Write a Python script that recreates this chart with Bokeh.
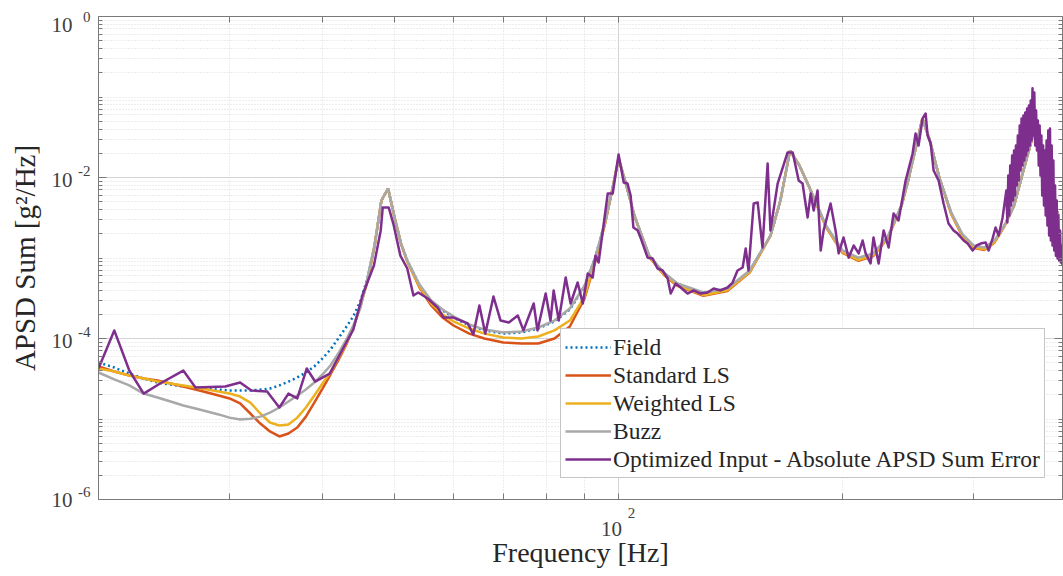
from bokeh.plotting import figure
from bokeh.models import Range1d, FixedTicker, LogAxis, CustomJSTickFormatter
from bokeh.embed import file_html
from bokeh.resources import INLINE

# Frequency grid shared by the smooth APSD-sum curves [Hz]
freq = [20, 21, 22, 23, 24, 25, 26, 27, 28, 29, 30, 31, 32, 33, 34, 35, 36, 37, 38, 39,
        40, 41, 42, 43, 44, 45, 46, 47, 48, 49, 50, 51, 52, 54, 56, 58, 60, 63, 66, 70,
        74, 78, 82, 86, 90, 93, 96, 98, 100, 102, 105, 110, 115, 120, 130, 140, 150, 160,
        165, 170, 175, 180, 190, 200, 210, 220, 230, 240, 245, 250, 256, 262, 270, 280,
        290, 300, 310, 320, 330, 340, 350, 362, 372, 380, 390]

# APSD sum [g^2/Hz]
field = [5.04e-5, 4.36e-5, 3.67e-5, 3.18e-5, 2.84e-5, 2.68e-5, 2.53e-5, 2.46e-5, 2.39e-5, 2.32e-5,
         2.26e-5, 2.26e-5, 2.26e-5, 2.32e-5, 2.39e-5, 2.61e-5, 2.92e-5, 3.28e-5, 3.78e-5, 4.49e-5,
         5.65e-5, 7.30e-5, 1.00e-4, 1.37e-4, 1.88e-4, 2.96e-4, 5.73e-4, 1.43e-3, 5.18e-3, 7.30e-3,
         3.19e-3, 1.51e-3, 9.31e-4, 4.55e-4, 2.88e-4, 2.23e-4, 1.82e-4, 1.45e-4, 1.26e-4, 1.15e-4,
         1.19e-4, 1.33e-4, 1.63e-4, 2.29e-4, 4.43e-4, 1.01e-3, 2.92e-3, 6.90e-3, 1.72e-2, 9.18e-3,
         3.37e-3, 1.04e-3, 6.42e-4, 4.69e-4, 3.52e-4, 4.06e-4, 6.80e-4, 1.90e-3, 5.18e-3, 2.16e-2,
         1.41e-2, 7.96e-3, 2.46e-3, 1.20e-3, 9.58e-4, 1.10e-3, 1.80e-3, 4.49e-3, 9.18e-3, 2.05e-2,
         5.41e-2, 2.88e-2, 9.72e-3, 3.57e-3, 1.90e-3, 1.39e-3, 1.31e-3, 1.60e-3, 2.53e-3, 4.49e-3,
         1.22e-2, 3.84e-2, 1.41e-2, 6.52e-3, 3.37e-3]

standard_ls = [4.50e-5, 3.89e-5, 3.47e-5, 3.18e-5, 3.01e-5, 2.76e-5, 2.53e-5, 2.32e-5, 2.13e-5, 1.96e-5,
               1.80e-5, 1.56e-5, 1.17e-5, 8.79e-6, 7.00e-6, 6.07e-6, 6.61e-6, 7.83e-6, 1.07e-5, 1.60e-5,
               2.39e-5, 3.57e-5, 5.33e-5, 8.19e-5, 1.37e-4, 2.57e-4, 5.25e-4, 1.43e-3, 5.18e-3, 7.30e-3,
               3.19e-3, 1.51e-3, 9.06e-4, 4.30e-4, 2.57e-4, 1.82e-4, 1.45e-4, 1.15e-4, 1.00e-4, 8.92e-5,
               8.67e-5, 8.67e-5, 1.00e-4, 1.41e-4, 3.14e-4, 8.79e-4, 2.76e-3, 6.90e-3, 1.72e-2, 9.18e-3,
               3.37e-3, 1.02e-3, 6.20e-4, 4.50e-4, 3.40e-4, 3.90e-4, 6.60e-4, 1.88e-3, 5.18e-3, 2.16e-2,
               1.41e-2, 7.96e-3, 2.42e-3, 1.16e-3, 9.20e-4, 1.06e-3, 1.76e-3, 4.45e-3, 9.18e-3, 2.05e-2,
               5.41e-2, 2.88e-2, 9.72e-3, 3.50e-3, 1.84e-3, 1.34e-3, 1.26e-3, 1.55e-3, 2.48e-3, 4.45e-3,
               1.22e-2, 3.84e-2, 1.41e-2, 6.52e-3, 3.37e-3]

weighted_ls = [4.24e-5, 3.89e-5, 3.47e-5, 3.18e-5, 2.92e-5, 2.76e-5, 2.61e-5, 2.46e-5, 2.32e-5, 2.20e-5,
               2.07e-5, 1.90e-5, 1.60e-5, 1.17e-5, 9.05e-6, 8.30e-6, 8.55e-6, 1.04e-5, 1.39e-5, 1.96e-5,
               2.76e-5, 3.78e-5, 5.65e-5, 8.42e-5, 1.37e-4, 2.57e-4, 5.25e-4, 1.43e-3, 5.18e-3, 7.30e-3,
               3.19e-3, 1.51e-3, 9.06e-4, 4.43e-4, 2.72e-4, 1.99e-4, 1.63e-4, 1.33e-4, 1.15e-4, 1.03e-4,
               1.00e-4, 1.06e-4, 1.26e-4, 1.67e-4, 3.32e-4, 9.31e-4, 2.84e-3, 6.90e-3, 1.72e-2, 9.18e-3,
               3.37e-3, 1.03e-3, 6.30e-4, 4.60e-4, 3.45e-4, 3.98e-4, 6.70e-4, 1.89e-3, 5.18e-3, 2.16e-2,
               1.41e-2, 7.96e-3, 2.44e-3, 1.18e-3, 9.40e-4, 1.08e-3, 1.78e-3, 4.47e-3, 9.18e-3, 2.05e-2,
               5.41e-2, 2.88e-2, 9.72e-3, 3.53e-3, 1.87e-3, 1.36e-3, 1.28e-3, 1.57e-3, 2.50e-3, 4.47e-3,
               1.22e-2, 3.84e-2, 1.41e-2, 6.52e-3, 3.37e-3]

buzz = [3.78e-5, 3.10e-5, 2.61e-5, 2.07e-5, 1.85e-5, 1.65e-5, 1.47e-5, 1.35e-5, 1.24e-5, 1.14e-5,
        1.04e-5, 9.86e-6, 1.01e-5, 1.07e-5, 1.20e-5, 1.39e-5, 1.65e-5, 1.96e-5, 2.32e-5, 2.84e-5,
        3.57e-5, 4.62e-5, 6.51e-5, 9.45e-5, 1.45e-4, 2.43e-4, 5.73e-4, 1.43e-3, 5.18e-3, 7.30e-3,
        3.19e-3, 1.51e-3, 9.31e-4, 4.69e-4, 2.96e-4, 2.29e-4, 1.88e-4, 1.49e-4, 1.29e-4, 1.19e-4,
        1.22e-4, 1.37e-4, 1.67e-4, 2.36e-4, 4.55e-4, 1.01e-3, 2.92e-3, 6.90e-3, 1.72e-2, 9.18e-3,
        3.37e-3, 1.07e-3, 6.61e-4, 4.82e-4, 3.73e-4, 4.18e-4, 7.00e-4, 1.90e-3, 5.18e-3, 2.16e-2,
        1.41e-2, 7.96e-3, 2.53e-3, 1.24e-3, 1.01e-3, 1.14e-3, 1.85e-3, 4.49e-3, 9.18e-3, 2.05e-2,
        5.41e-2, 2.88e-2, 9.72e-3, 3.67e-3, 1.96e-3, 1.43e-3, 1.35e-3, 1.65e-3, 2.53e-3, 4.49e-3,
        1.22e-2, 3.84e-2, 1.41e-2, 6.52e-3, 3.37e-3]

# Optimized input (absolute APSD-sum error), finer frequency resolution [Hz]
opt_freq = [20.0, 21.0, 22.0, 23.0, 24.2, 26.0, 27.0, 29.6, 31.0, 32.1, 33.7, 35.0, 36.0, 37.0,
            38.1, 39.1, 40.9, 42.7, 44.0, 45.3, 46.9, 47.9, 48.2, 49.1,
            49.8, 50.9, 52.0, 53.0, 53.8, 55.4, 57.1, 58.2, 60.0, 62.7, 63.8, 65.0, 66.2, 67.9,
            69.4, 71.2, 73.2, 74.5, 76.9, 77.8, 79.8, 81.0, 81.8, 83.1, 84.9, 86.2, 88.1, 89.5,
            90.9, 92.3, 93.1, 94.0, 96.7, 98.2, 100.0,
            101.6, 102.8, 103.8, 104.7, 106.1, 107.0, 109.4, 111.1, 112.8, 114.6, 116.4, 117.5,
            119.3, 121.2, 123.8, 126.1, 128.9, 131.7, 134.2, 137.1, 140.1, 142.3, 144.5, 146.8,
            148.2, 149.5, 151.9, 153.8, 156.1, 158.6, 160.0, 163.6, 168.7, 171.4, 174.6, 176.7,
            179.5, 181.2,
            182.9, 185.1, 186.9, 188.6, 192.7, 195.7, 197.6, 200.6, 203.8, 207.0, 210.2, 212.8,
            214.8, 218.1, 220.1, 223.6, 227.1, 230.6, 234.2, 237.8, 243.1, 248.4, 250.7, 253.0,
            256.2, 258.6, 260.2, 262.7, 265.1, 269.2, 273.4, 277.6, 282.0, 285.5, 290.9, 294.5,
            299.1, 302.8, 306.6, 311.4, 314.3, 318.2, 321.1, 324.2, 328.2,
            332, 333, 334, 335, 336, 337, 338, 339, 340, 341, 342, 343, 344, 345, 346, 347, 348,
            349, 350, 351, 352, 353, 354, 355, 356, 357, 358, 359, 360, 361, 362, 363, 364, 365,
            366, 367, 368, 369, 370, 371, 372, 373, 374, 375, 376, 377, 378, 379, 380, 381, 382,
            383, 384, 385, 386, 387, 388, 389, 390, 391, 392, 393, 394, 395]

opt_apsd = [4.24e-5, 1.26e-4, 4.00e-5, 2.07e-5, 2.76e-5, 4.00e-5, 2.46e-5, 2.53e-5, 2.84e-5, 2.26e-5,
            2.20e-5, 1.39e-5, 2.07e-5, 1.80e-5, 4.24e-5, 2.92e-5, 3.67e-5, 7.73e-5, 1.29e-4, 3.52e-4,
            8.07e-4, 2.20e-3, 4.24e-3, 4.24e-3,
            2.68e-3, 1.07e-3, 7.41e-4, 3.42e-4, 3.73e-4, 3.14e-4, 2.43e-4, 1.82e-4, 1.82e-4, 1.54e-4,
            1.12e-4, 2.57e-4, 1.15e-4, 3.32e-4, 1.67e-4, 1.58e-4, 1.93e-4, 1.26e-4, 2.72e-4, 1.26e-4,
            3.62e-4, 1.67e-4, 3.95e-4, 1.67e-4, 5.73e-4, 2.72e-4, 4.96e-4, 2.72e-4, 6.42e-4, 5.73e-4,
            1.07e-3, 8.79e-4, 6.33e-3, 6.33e-3, 1.93e-2,
            8.67e-3, 8.42e-3, 5.97e-3, 2.39e-3, 2.20e-3, 1.80e-3, 1.01e-3, 9.86e-4, 7.41e-4, 7.00e-4,
            5.56e-4, 3.62e-4, 4.82e-4, 4.30e-4, 3.62e-4, 3.95e-4, 3.62e-4, 3.73e-4, 4.18e-4, 3.95e-4,
            4.30e-4, 4.96e-4, 7.00e-4, 7.62e-4, 1.31e-3, 7.00e-4, 4.75e-3, 4.89e-3, 1.35e-3, 1.49e-2,
            2.20e-3, 8.42e-3, 2.05e-2, 2.05e-2, 9.18e-3, 8.42e-3, 3.19e-3, 6.33e-3,
            3.89e-3, 6.90e-3, 1.24e-3, 2.20e-3, 4.75e-3, 2.20e-3, 1.14e-3, 1.80e-3, 1.01e-3, 1.43e-3,
            1.14e-3, 1.65e-3, 1.14e-3, 8.55e-4, 1.80e-3, 8.55e-4, 2.20e-3, 1.35e-3, 3.57e-3, 2.92e-3,
            9.18e-3, 1.99e-2, 3.52e-2, 2.50e-2, 5.41e-2, 6.24e-2, 3.33e-2, 2.64e-2, 1.22e-2, 9.18e-3,
            4.75e-3, 2.68e-3, 2.20e-3, 2.01e-3, 1.65e-3, 1.51e-3, 1.24e-3, 1.43e-3, 1.51e-3, 1.56e-3,
            1.24e-3, 1.75e-3, 2.39e-3, 1.90e-3, 3.19e-3,
            6.90e-3, 2.76e-3, 1.06e-2, 3.37e-3, 1.41e-2, 4.49e-3, 1.88e-2, 5.18e-3, 2.16e-2, 5.97e-3,
            2.50e-2, 7.96e-3, 3.33e-2, 9.18e-3, 4.43e-2, 1.22e-2, 5.41e-2, 1.41e-2, 5.89e-2, 1.63e-2,
            6.42e-2, 1.88e-2, 7.20e-2, 2.16e-2, 7.84e-2, 2.50e-2, 9.05e-2, 2.88e-2, 1.28e-1, 3.33e-2,
            1.14e-1, 2.50e-2, 6.80e-2, 2.16e-2, 5.11e-2, 1.41e-2, 4.43e-2, 1.06e-2, 3.33e-2, 5.97e-3,
            2.50e-2, 4.49e-3, 2.16e-2, 3.37e-3, 2.88e-2, 2.53e-3, 3.84e-2, 1.90e-3, 4.06e-2, 1.65e-3,
            2.50e-2, 1.43e-3, 1.63e-2, 1.24e-3, 7.96e-3, 1.07e-3, 5.18e-3, 9.86e-4, 3.37e-3, 9.31e-4,
            2.20e-3, 8.79e-4, 1.43e-3, 8.07e-4]

# Axis ticks: only 10^2 labelled on x, even decades labelled on y
x_major = [100]
x_minor = [30, 40, 50, 60, 70, 80, 90, 200, 300]
y_major = [1e-6, 1e-4, 1e-2, 1.0]
y_minor = [k * 10.0 ** n for n in range(-6, 0) for k in range(1, 10)
           if not (k == 1 and n % 2 == 0)]

X_MIN, X_MAX = 20, 395
Y_MIN, Y_MAX = 1e-6, 1.0
FRAME_W, FRAME_H = 964, 483          # plot-area size in pixels
PX_PER_DECADE_X = FRAME_W / 1.29557  # log10(395 / 20)
PX_PER_DECADE_Y = FRAME_H / 6.0

SERIF = "Liberation Serif"
AXIS_GRAY = "#7a7a7a"
TEXT = "#262626"
TICK_TEXT = "#404040"


def nudge(v, px, per_decade):
    """Move a log-axis position by a number of screen pixels."""
    return v * 10 ** (px / per_decade)


p = figure(width=1063, height=576, x_axis_type="log", y_axis_type="log",
           x_range=Range1d(X_MIN, X_MAX), y_range=Range1d(Y_MIN, Y_MAX),
           output_backend="svg", toolbar_location=None,
           min_border_left=98, min_border_right=1, min_border_top=16, min_border_bottom=77)
p.background_fill_color = "white"
p.border_fill_color = "white"
p.outline_line_color = AXIS_GRAY

x_ticker = FixedTicker(ticks=x_major, minor_ticks=x_minor)
y_ticker = FixedTicker(ticks=y_major, minor_ticks=y_minor)
blank = CustomJSTickFormatter(code="return '';")
exponent_fmt = CustomJSTickFormatter(code="return String(Math.round(Math.log10(tick)));")
base_fmt = CustomJSTickFormatter(code="return '10';")


def tick_axis(ax, ticker, tick_len, minor_len):
    """Frame-side axis carrying only the inward tick marks."""
    ax.ticker = ticker
    ax.formatter = blank
    ax.major_label_standoff = 0
    ax.major_label_text_font_size = "1px"
    ax.axis_line_color = AXIS_GRAY
    ax.major_tick_line_color = AXIS_GRAY
    ax.minor_tick_line_color = AXIS_GRAY
    ax.major_tick_in = tick_len
    ax.major_tick_out = 0
    ax.minor_tick_in = minor_len
    ax.minor_tick_out = 0
    return ax


def text_axis(ticks, fmt, size, standoff):
    """Label-only axis: the '10' bases and the raised exponents sit on separate rows."""
    ax = LogAxis(ticker=FixedTicker(ticks=ticks, minor_ticks=[]), formatter=fmt)
    ax.axis_line_color = None
    ax.major_tick_line_color = None
    ax.minor_tick_line_color = None
    ax.major_tick_in = 0
    ax.major_tick_out = 0
    ax.minor_tick_in = 0
    ax.minor_tick_out = 0
    ax.major_label_text_font = SERIF
    ax.major_label_text_font_size = size
    ax.major_label_text_color = TICK_TEXT
    ax.major_label_standoff = standoff
    return ax


tick_axis(p.xaxis[0], x_ticker, 6, 6)
tick_axis(p.yaxis[0], y_ticker, 8, 4)
top = tick_axis(LogAxis(), x_ticker, 6, 6)
p.add_layout(top, "above")
right = tick_axis(LogAxis(), y_ticker, 8, 4)
p.add_layout(right, "right")

# y labels: exponent row next to the frame, then the bases, then the title
y_exp_ticks = [nudge(1e-6, 8, PX_PER_DECADE_Y), nudge(1e-4, 7, PX_PER_DECADE_Y),
               nudge(1e-2, 7, PX_PER_DECADE_Y), 1.0]
y_base_ticks = [1e-6, nudge(1e-4, -2, PX_PER_DECADE_Y), nudge(1e-2, -2, PX_PER_DECADE_Y),
                nudge(1.0, -8, PX_PER_DECADE_Y)]
p.add_layout(text_axis(y_exp_ticks, exponent_fmt, "15px", 8), "left")
y_base = text_axis(y_base_ticks, base_fmt, "21px", 3)
y_base.axis_label = "APSD Sum [g\u00b2/Hz]"
y_base.axis_label_text_font = SERIF
y_base.axis_label_text_font_size = "29px"
y_base.axis_label_text_font_style = "normal"
y_base.axis_label_text_color = TEXT
y_base.axis_label_standoff = 8
p.add_layout(y_base, "left")

# x labels: exponent row, then base row, then the title
x_exp_ticks = [nudge(v, 13, PX_PER_DECADE_X) for v in x_major]
x_base_ticks = [nudge(v, -7, PX_PER_DECADE_X) for v in x_major]
p.add_layout(text_axis(x_exp_ticks, exponent_fmt, "15px", 8), "below")
x_base = text_axis(x_base_ticks, base_fmt, "21px", 1)
x_base.axis_label = "Frequency [Hz]"
x_base.axis_label_text_font = SERIF
x_base.axis_label_text_font_size = "28px"
x_base.axis_label_text_font_style = "normal"
x_base.axis_label_text_color = TEXT
x_base.axis_label_standoff = -2
p.add_layout(x_base, "below")

for g, t in ((p.xgrid, x_ticker), (p.ygrid, y_ticker)):
    g.ticker = t
    g.grid_line_color = "#d4d4d4"
    g.grid_line_width = 1
    g.minor_grid_line_color = "#dadada"
    g.minor_grid_line_dash = "1 2"
    g.minor_grid_line_width = 1

p.line(freq, field, color="#0072BD", line_width=2.5, line_dash="2 3", legend_label="Field")
p.line(freq, standard_ls, color="#D95319", line_width=2.5, legend_label="Standard LS")
p.line(freq, weighted_ls, color="#EDB120", line_width=2.5, legend_label="Weighted LS")
p.line(freq, buzz, color="#A8A8A8", line_width=2.5, legend_label="Buzz")
p.line(opt_freq, opt_apsd, color="#7E2F8E", line_width=2.5, line_join="round",
       legend_label="Optimized Input - Absolute APSD Sum Error")

lg = p.legend[0]
lg.location = (462, 21)
lg.label_text_font = SERIF
lg.label_text_font_size = "23.5px"
lg.label_text_color = TEXT
lg.glyph_width = 46
lg.glyph_height = 28
lg.label_height = 28
lg.spacing = 0
lg.padding = 4
lg.margin = 0
lg.label_standoff = 2
lg.border_line_color = "#8c8c8c"
lg.border_line_width = 1
lg.background_fill_alpha = 1.0

open("out.html", "w").write(file_html(p, INLINE))
